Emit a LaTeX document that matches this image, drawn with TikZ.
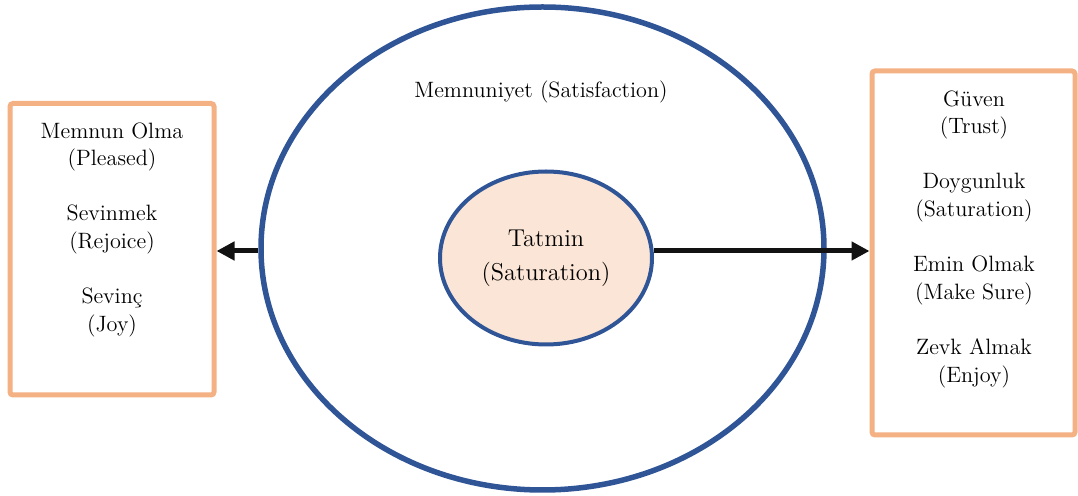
\documentclass[tikz,border=0pt]{standalone}
\usepackage{fontspec}
\usetikzlibrary{shapes.geometric,arrows.meta,calc}
\definecolor{boxorange}{HTML}{F4B183}
\definecolor{ringblue}{HTML}{2F5597}
\definecolor{corefill}{HTML}{FBE5D6}
\begin{document}
\begin{tikzpicture}[x=0.5pt,y=-0.5pt,
  sidebox/.style={draw=boxorange,line width=2.5pt,rounded corners=1.5pt,fill=white,inner sep=0pt},
  boxtext/.style={font=\fontsize{11.1}{13.8}\selectfont,align=center,inner sep=0pt,anchor=north},
  ring/.style={ellipse,draw=ringblue,inner sep=0pt},
  link/.style={draw=black!93,line width=2.5pt,-{Triangle[length=9pt,width=9pt]}}]
\useasboundingbox (0,0) rectangle (1078,496);
\node[ring,line width=2.75pt,minimum width=281.5pt,minimum height=241.5pt] (outer) at (542.5,248.5) {};
\node[ring,fill=corefill,line width=2pt,minimum width=106pt,minimum height=86.5pt,font=\fontsize{12.2}{17}\selectfont,align=center] (inner) at (546,258) {Tatmin\\(Saturation)};
\node[anchor=base,inner sep=0pt,font=\fontsize{11.1}{13.8}\selectfont] (title) at (541,98) {Memnuniyet (Satisfaction)};
\node[sidebox,minimum width=102pt,minimum height=145.75pt] (lbox) at (112,249.25) {};
\node[sidebox,minimum width=101.5pt,minimum height=182pt] (rbox) at (973.5,253) {};
\node[boxtext] (ltext) at (112,122) {Memnun Olma\\(Pleased)\\[13.8pt]Sevinmek\\(Rejoice)\\[13.8pt]Sevinç\\ (Joy)};
\node[boxtext] (rtext) at (974,90) {Güven\\(Trust)\\[13.8pt]Doygunluk\\(Saturation)\\[13.8pt]Emin Olmak\\ (Make Sure)\\[13.8pt]Zevk Almak\\(Enjoy)};
\draw[link] (inner.east |- 0,251) -- (rbox.west |- 0,251);
\draw[link] (outer.west |- 0,251) -- (lbox.east |- 0,251);
\end{tikzpicture}
\end{document}
